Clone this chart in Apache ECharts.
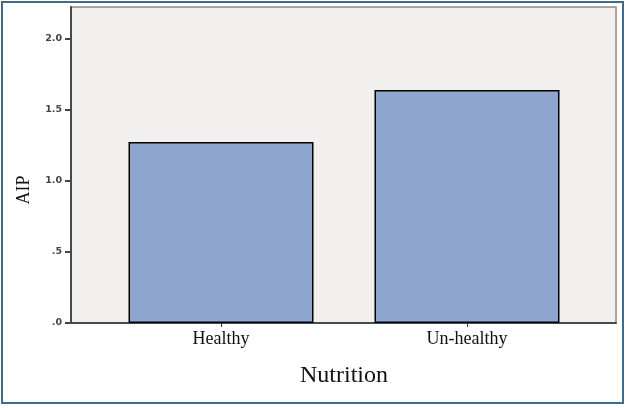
<!DOCTYPE html>
<html>
<head>
<meta charset="utf-8">
<script src="https://cdn.jsdelivr.net/npm/echarts@6/dist/echarts.min.js"></script>
<style>
  html, body { margin: 0; padding: 0; background: #fff; }
  #graph { width: 629px; height: 408px; }
</style>
</head>
<body>
<div id="graph"></div>
<script>
let categories = ["Healthy", "Un-healthy"];
let aipValues = [1.275, 1.64];
let yTickValues = [0, 0.5, 1.0, 1.5, 2.0];
let yTickLabels = [".0", ".5", "1.0", "1.5", "2.0"];

let myChart = echarts.init(document.getElementById('graph'));

let yMax = 2.225;

let option = {
    animation: false,
    backgroundColor: '#ffffff',
    graphic: [{
        type: 'rect',
        shape: { x: 2, y: 2, width: 621, height: 401 },
        style: { fill: 'none', stroke: '#3b6e8e', lineWidth: 2 }
    }],
    grid: [
        // background panel + y axis
        { left: 71, right: 13, top: 7, bottom: 85, show: true,
          backgroundColor: '#f1f0ee', borderColor: '#8a8a8a', borderWidth: 1.5 },
        // bars
        { left: 98, right: 39, top: 7, bottom: 85 }
    ],
    xAxis: [
        {
            gridIndex: 0, type: 'value', min: 0, max: 1,
            axisLine: { show: true, onZero: false, lineStyle: { color: '#4a4a4a', width: 2 } },
            axisTick: { show: false }, axisLabel: { show: false }, splitLine: { show: false }
        },
        {
            gridIndex: 1, type: 'category', data: categories,
            name: 'Nutrition', nameLocation: 'middle', nameGap: 41,
            nameTextStyle: { fontFamily: 'Liberation Serif', fontSize: 24, color: '#111' },
            axisLine: { show: false },
            axisTick: { show: true, alignWithLabel: true, length: 4, lineStyle: { color: '#333' } },
            axisLabel: { margin: 7, fontFamily: 'Liberation Serif', fontSize: 18, color: '#111' }
        }
    ],
    yAxis: [
        {
            gridIndex: 0, type: 'value', min: 0, max: yMax,
            name: 'AIP', nameLocation: 'middle', nameGap: 38, nameRotate: 90,
            nameTextStyle: { fontFamily: 'Liberation Serif', fontSize: 18, color: '#111', padding: [0, 50, 0, 0] },
            axisLine: { show: true, lineStyle: { color: '#4a4a4a', width: 2 } },
            axisTick: { show: true, inside: false, length: 6, customValues: yTickValues, lineStyle: { color: '#444', width: 2 } },
            axisLabel: {
                customValues: yTickValues, margin: 9,
                fontFamily: 'DejaVu Sans', fontSize: 9.5, fontWeight: 'bold', color: '#444',
                formatter: function (v) {
                    let i = yTickValues.indexOf(v);
                    return i >= 0 ? yTickLabels[i] : '';
                }
            },
            splitLine: { show: false }
        },
        {
            gridIndex: 1, type: 'value', min: 0, max: yMax, show: false
        }
    ],
    series: [{
        type: 'bar',
        xAxisIndex: 1,
        yAxisIndex: 1,
        barWidth: 185,
        data: aipValues,
        itemStyle: { color: '#8ea6cf', borderColor: '#000', borderWidth: 1.5 }
    }]
};

myChart.setOption(option);
</script>
</body>
</html>
